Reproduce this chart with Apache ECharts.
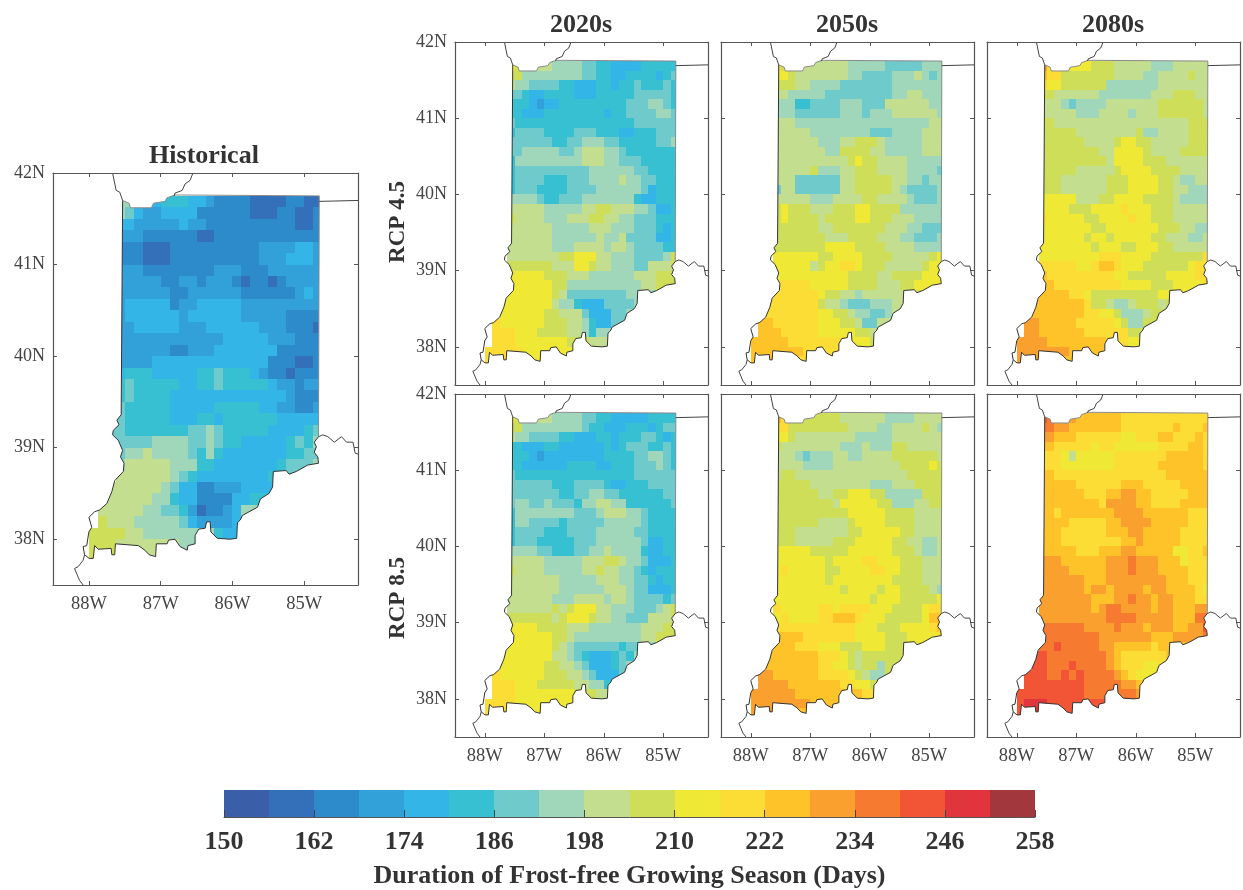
<!DOCTYPE html>
<html><head><meta charset="utf-8">
<style>html,body{margin:0;padding:0;background:#fff}#c{width:1243px;height:890px}</style>
<script src="https://cdn.jsdelivr.net/npm/echarts@6/dist/echarts.min.js"></script>
</head><body><div id="c"></div>
<script>
// Bin colours, one per 6-day bin from 150 to 258
const binColors = ['#3a5fa8','#3370b9','#2e8bcb','#32a0d9','#34b5e8','#36c0d2','#6fcbcb','#a0d6b9','#c4de8f','#cfde58','#efe835','#fbdd36','#fdc328','#f9a02e','#f67a30','#f25535','#e0353c','#a2383e'];
const binStart = 150, binStep = 6;
const levelKeys = 'abcdefghijklmnopqr';
const cbTicks = [150,162,174,186,198,210,222,234,246,258];
const lonTicks = [-88,-87,-86,-85];
const latTicks = [38,39,40,41,42];
const gridWest = -88, gridNorth = 41.75, gridCell = 0.125;

// Gridded season length, one letter per cell (a = 150-156 ... r = 252-258), north to south
const historical = [
"...hheeefffeedccccbbbbccbb","...hgeddeeeeccccccbbbccbbc","...eedddddeddccccccccccbbc","...dddccccccbbcccccccccccc",
"...cccbbbccccccccccddddeed","...cccbbbccccccccccdddeeed","...dddccccccccdddcccdddddd","...dddddccddcdddcbccbcdddd",
"...ddddddccddddddccccccded","...deeeeecddeeeeeddddddddd","...deeeeeedeeeeeedddddcccc","...ddeeeeedddeeeeeedddcccb",
"...ddddddddddddeeeeedddccc","...ddddddccdddeeeeeeeccccc","...ddddeeeeeeeeeeeeecccbbc","...efffeeeeeffgfffedccbccc",
"...fgfffffeeffgfffffeddcdd","...fgffffeeeeeeeeeeeeedccc","...gfffffeeeeefffffeeddccd","...gfffffeeeffeffffffeeeee",
"..ggfffffffgghgfffffeeeefg","..ggggghhhhgghgffeeeeefgfh","...ghhihhhhgfhfeeeeeeeffgg","...hiiiiihhhffeeeeeeefgggh",
"...iiiiiihgfeeeeeeeefggggg","..iiiiiihgeeccdddeeeefffff",".iiiiiihhfeeccccee ffffffff".replace(' ',''),".iiiiihhggfdbccdehhhhhhhhh",
".jiiihhhhhgeddddefffffffff","jjjjiihhhhhhhhfeeeeeffffff","jjjiiiiiiihhhhhhhhhhffffff","jjjiiiiiihhhhhhhhhhhhhhhhh"];
const rcp45s2020 = [
"...kjjiiihhhhggffeeeefffff","...jjhhhhhhhhggffeeffffefg","...ihhggggffeeeffeffgfffgf","...ggfeeffffeeefffffgggggf",
"...fffedeefffffffffggghhgf","...ffeeeffffffffeffgggghhg","...gffffffffffffffffgggggg","...fggggffffgggfffeefffggg",
"...ggggggffgghhhggfffffggh","...gghhhhhgghiiihhgfffffff","...fhhhhhhhhhiiihhgggfffff","...fgggggggggghhhhhhggffff",
"...fggggfffggghhhhihhggfff","...fgggffffgggghhhhhhgefff","...hhhhgffggghhhhhhhfeefff","...iiiiihhhhhiijjiiihhgeef",
"...jiiiihhhiiijjiihhgggfff","...iiiiiihhhhhiiihhhgggfef","...iiiiiihhhhhhihhiggggeef","...iiiiiihhhiiiihiihggggff",
"...iiiiiiijjkkkiihhhgggghj","...jjjjjjiiikkjiihhhggiiij","...kkkkkjjjiiihhhhhhiiijjj","...kkkkkkjjhhhhhhhhhhiijjj",
"...kkkkkkjigggggggghhhhhhh","..kkkkkkkihhfeeegggghhiiii","..kkkkkkjjiiigeeegghhkkkkk",".lkkkkkkjjjiihfeegghkkkkkk",
".lllkkkjjjjiihfhhhhhhhhhhh",".lllkkkkkkkjjjiiiiiiiiiiii","lllllkkkkkkkkjjjjiiiiiiiii","lllkkkkkkkkkkkjjjjjjjjjjjj"];
const rcp45s2050 = [
"...ljjiiiiiiihhhhhggggghhh","...kkjiiiiiiihhgggghhhihgh","...jjjiihhhhggggggghhhhhhh","...iihhhhhggggggggghhiihhh",
"...hhhffgggghhhgggiiiiiihh","...hhhgggggghhhghhhiiiiiih","...iiihhhhhhhhhhhhhhhhhhii","...iiiiihhhhhhhhggghhhhiii",
"...iiiiiihhhiijjjihhhhhiii","...iiiiiiihhjjjjiihhhhhiii","...iiiiiiiiiijkjjiiiihhhhh","...iiiiijhhhiijjjiiiihhhhg",
"...iiiggggggiijjjjjiihhghh","...giiggggggiijjjjjihggggh","...iiiiihhhiiiijjiiiihgggh","...jkjjjiiijjjkkjjjjhhhhhh",
"...jkjjjjijjjjkkjjjiiihhhh","...jjjjjjiijjjjjjjiiihhggg","...jjjjjjjiiijjjjiiihhgggh","...jjjjjjjkkkkjjjjiiiihhhh",
"...kkkkkkjjkkkkjjjjiiiiijk","...kkkkkijkkllkjjjiiiiijkk","...kkkkkkkkkkjjjjiijjjjkkk","...lllllkkkkkjjjjiiijjkkkk",
"...llllllkjjiihiiiiiijjjjj","..llllllljiihggghhhiijjjjj","..lllllllkkjjihhgghiiillll",".mmllllllkkkjjiggiiimmllll",
".mmmlllllkkkkkjjiiiiiiiiii","mmmmmllllllllkkkjjiiiiiiii","mmmmmmmlllllllllkkkjjjjjjj","mmmmmlllllllllllkkkkkkkkkk"];
const rcp45s2080 = [
"...nllkkkkjjjiiiiihhhiiiii","...mlljjjjjjjiiiihhiiiijii","...lkkjjjjjjhhhhhhhiiiiiii","...jjiiiiiihhhhhhhiiijjjii",
"...iiihghhhhiiiiiiijjjjjji","...iiiiihhhiiiihiiijjjjjji","...jjiiiiiiiiiiiiiiiiiijjj","...jjjjjiiiiiiiijhhiiiijjj",
"...jjjjjjiiiijkkjjiiiiijjj","...jjjjjjjjiikkkkjiiiijjjj","...jjjjjjjjjikkkkjjjiiiiii","...jjjjjiiiiijkkkkjjjjiiii",
"...jjjiiiiiijjjkkkkjjihhii","...jjjiiiiiijjjkkkkjjiihhh","...kkkkkiiijjkkkkjjjjihhhh","...kkkkjjjkkkklkkkjjjiiiii",
"...lkkkkkjjkkkklkkjjjiiiii","...kkkkkkkjjkkkkkkkjjjiihh","...kkkkkkjkkjkkkkkjjiiihhi","...kkkkkkkjkkkjjkkkjjiiiii",
"...kkkkkkkklllkkkkjjjjjjjl","...lllllkklmmlkkkjjjjjjkll","...mlllllllllkkjjjjjkkkkll","...mmlllllllllkkkkjjjkkkkl",
"...mmmmllkjjjjjjjjjkkkkkkk","..mmmmmmmljjihhijjjijjkkkk","..mmmmmmmllkkjhhhijjjlllll",".nnmmmmmlllllkjhhjjjjmmlll",
".nnmmmmmmlllllljjjkkkkkkkk","nnnnmmmmmmmmlllkkkkkkkkkkk","nnnnnnnmmmmmmmmmmllkkkkkkk","nnnnnmmmmmmmmmmlllllllkkkk"];
const rcp85s2020 = [
"...kjjiiihhhhggffeeeeeffff","...jjhhhhhhhhgffeeefffefgg","...ihhggggffeeeffefffggfef","...ffeeeffeeeeeefefgggffgf",
"...fffedeeeeeeeeffffgghhgf","...ffeeeeeeffffeefffggghgf","...gffffffffffffffffgggggg","...ggggggfffggggfeefffgggg",
"...gggggggffgghhggffffffgg","...ghhgghgggfhhiihhffffffg","...fhhhhhhhhggghiiihhgffff","...fhhggggfggggghhhhhgffff",
"...fggggfffgggghhhhhggffff","...fgggfffffggghhhhhhgeeff","...hhhhggfffgghhihhhhfeeff","...iiiiihhhhhiiijjihhgeeef",
"...jiiiihhhhhiijiihhgfefff","...iiiiiiihhhhhiiihhggfeff","...iiiiiiihhhhhhiiihggeeef","...iiiiiihhhiiiihiihggggfg",
"...iiiiiijijkkkiihhhggghij","...jjjjjjijkkkjiihhgggiiij","...kkkkjjjjiiihhhhhhhiiijj","...kkkkkkjjihhhhhhhhhiijjj",
"...kkkkkkjihggggggfgghhhhh","..kkkkkkkiihgfeeefgfhhiiii","..kkkkkkjjiihgeeefghhkkkkk",".lkkkkkkjjjiihgeeegghkkkkk",
".lllkkkjjjjjiihhfhhhhhiiii",".lllkkkkkkkkjjjiiiiiiiiiii","llllkkkkkkkkkkkjjjiiiiiiii","llkkkkkkkkkkkkkjjjjjjjjjjj"];
const rcp85s2050 = [
"...mlljjjjjjiiiiiihhhhiiii","...lljjjjjjjjiiiihhiiiijih","...kkjiiiiiiiihhhhhiiiiiii","...jiiiiiiiihhhihhhjjiiiii",
"...iiihghhhiihhiiiijjjjjji","...iiiihhhhiiiiiiiiijjjjkj","...ijjiiiiiiiiiiiiiiijjjjj","...jjjjjiiiiiiiihhhiiijjjj",
"...jjjjjjiijjkkkjjhhhhhjjj","...jjjjjjjjikkkkkjjhhhiijj","...jjjjjjjjjjkkkkkjjjjiiii","...jjjjjjiiiijkkkkjjjjiiii",
"...jjjiiiiiiijjkkkkkjjiiii","...jjjiiiiijjjkkkkkjjiihhi","...kkkkkjjjjjkkkkkkjjjihhi","...kkkkkkkjkkkkllkkkjjjiii",
"...klkkkkkjjkkkkllkkjjjiii","...kkkkkkkjkkkkkkkkjjjjiii","...kkkkkkkkkjkkkkjkkjjjjih","...kkkkkkkkkkkkkjkkkjjjjjk",
"...lkkkkkllkllllkkkjjjjkll","...klkkkkllmmmlkkkjjjjjkmm","...lllllllllllkkkjjjkkkklm","...mmmmlllllllkkkkjjjkkkkl",
"...mmmlllkkkjjjkkkjjjkkkkk","..mmmmmmmlllkjijjjjjjkkkkk","..mmmmmmmllkkjijjhjjkkllll",".nnmmmmmmllllkjihhjjkkmmll",
".nnnnmmmmmmmllkkjhjjjjkkkk","nnnnnnmmmmmmmmmlllkkkkkkkk","nnnnnnnnmmmmmmmmmmlkkkkkkk","nnnnnmmmmmmmmmmmmlllllkkkk"];
const rcp85s2080 = [
"...ponnnmmmmmmllllllllllll","...oonnmmmmmmmlllllllmlllm","...nnmmmllllllkklllmmlllml","...mmlllllkllkkkkkkllllmml",
"...lllkikkkkklllllllmmmmml","...lllkkkkkkkllllllmmmmmml","...mmlllllllllllllllmmmmmm","...mmmmmllllllmmmlllllmmmm",
"...mmmmmmlllmmnnmmlllllmmm","...mmmmmmmmlnnnnmmllllmmmm","...mmlmmmmmmmnnnnmmmmmmlll","...mmmmlllllmmnnnnmmmmmlll",
"...mmmllllllmmmnnmmmmmllll","...mmmllllllllmmnmmmmmllll","...mmmmmlllmmmnnmmmmmkkllm","...nnnmmmmmmnnnonnnmmmklll",
"...nnnnmmmmmnnnonnnmmmmlll","...nnnnnnmmmnnnnnnnnmmmlll","...nnnnnnmnnmnnnnmnnmmmmlk","...nnnnnnnmmmnnonnmnnmmmll",
"...nnnnnnnmnoonnnnmnnmmmnn","...nnnnnnnnnoooonnnnnmmmoo","...oooooonnnnonnnmnnnmmnnp","...oooooooonnnnnnnmmmnnnno",
"...oopooooonnmmmmmlmmmmnnn","..ppoooooooonmllllllmmmmmm","..ppooopoooonmlllkkllmmppp",".pppoopopoooonmlkkkkllmmpp",
".ppppppppooooonnmkkkmmmmmm","pppppppppooooooonmmmnnnnnn","pqqqpppppppppppoooonnnnnnn","ppqqpppppppppppppoooonnnnn"];

// Boundaries in [lon, lat]
const stateNorthEast = [[-87.53,41.70],[-87.44,41.67],[-87.42,41.62],[-87.13,41.62],[-87.10,41.67],[-86.94,41.69],[-86.91,41.73],[-86.80,41.76],[-84.79,41.75],[-84.80,39.12]];
const stateSouthWest = [[-84.80,39.12],[-84.86,39.06],[-84.83,39.01],[-84.86,38.95],[-84.81,38.90],[-84.80,38.83],[-84.95,38.81],[-85.11,38.74],[-85.21,38.71],[-85.25,38.75],[-85.43,38.74],[-85.44,38.57],[-85.49,38.50],[-85.61,38.44],[-85.65,38.35],[-85.86,38.26],[-85.89,38.21],[-85.93,38.18],[-85.94,38.01],[-86.03,38.00],[-86.21,38.01],[-86.30,38.08],[-86.31,38.19],[-86.36,38.19],[-86.38,38.12],[-86.47,38.11],[-86.52,38.04],[-86.52,37.95],[-86.62,37.93],[-86.63,37.88],[-86.73,37.92],[-86.80,38.00],[-86.89,37.99],[-86.91,37.95],[-87.06,37.95],[-87.07,37.81],[-87.16,37.83],[-87.22,37.88],[-87.31,37.93],[-87.63,37.95],[-87.64,37.83],[-87.68,37.83],[-87.69,37.90],[-87.87,37.89],[-87.92,37.93],[-87.94,37.79],[-87.995,37.79],[-88.06,37.83],[-88.08,37.92],[-88.03,37.93],[-88.0,38.08],[-87.96,38.13],[-88.0,38.24],[-87.92,38.30],[-87.85,38.32],[-87.75,38.39],[-87.68,38.52],[-87.64,38.64],[-87.52,38.74],[-87.51,38.83],[-87.56,38.90],[-87.53,38.97],[-87.59,39.08],[-87.67,39.14],[-87.66,39.19],[-87.58,39.25],[-87.61,39.30],[-87.55,39.36],[-87.53,41.70]];
const illinoisShore = [[-87.67,42],[-87.62,41.81],[-87.57,41.79],[-87.53,41.70]];
const michiganShore = [[-86.55,42],[-86.59,41.92],[-86.66,41.88],[-86.70,41.81],[-86.80,41.78],[-86.81,41.75]];
const michiganOhioLine = [[-84.79,41.69],[-84.25,41.70]];
const ohioRiverEast = [[-84.80,39.12],[-84.74,39.14],[-84.67,39.12],[-84.58,39.06],[-84.48,39.12],[-84.41,39.06],[-84.32,39.06],[-84.29,38.94],[-84.25,38.93]];
const wabashSouth = [[-88.06,37.83],[-88.08,37.77],[-88.15,37.70],[-88.20,37.68],[-88.13,37.55],[-88.08,37.5]];

const LON_MIN=-88.5, LON_MAX=-84.25, LAT_MIN=37.5, LAT_MAX=42;
const serif = '"Liberation Serif","Times New Roman",serif';
const axisColor = '#555';

const panels = [
 {rows:historical, left:53, top:173, width:305, height:412, xl:true, yl:true},
 {rows:rcp45s2020, left:455, top:42, width:253, height:343, xl:false, yl:true},
 {rows:rcp45s2050, left:721, top:42, width:253, height:343, xl:false, yl:false},
 {rows:rcp45s2080, left:987, top:42, width:253, height:343, xl:false, yl:false},
 {rows:rcp85s2020, left:455, top:394, width:253, height:343, xl:true, yl:true},
 {rows:rcp85s2050, left:721, top:394, width:253, height:343, xl:true, yl:false},
 {rows:rcp85s2080, left:987, top:394, width:253, height:343, xl:true, yl:false}
];

function toCells(rows){
  const out=[];
  rows.forEach((row,j)=>{
    for(let i=0;i<row.length;i++){
      const k=levelKeys.indexOf(row[i]);
      if(k<0) continue;
      out.push([gridWest+gridCell*(i+.5), gridNorth-gridCell*(j+.5), binStart+binStep*k+binStep/2]);
    }
  });
  return out;
}
function renderCell(params,api){
  const lon=api.value(0), lat=api.value(1), v=api.value(2);
  const a=api.coord([lon-gridCell/2,lat+gridCell/2]), b=api.coord([lon+gridCell/2,lat-gridCell/2]);
  const x0=Math.round(a[0]),y0=Math.round(a[1]),x1=Math.round(b[0]),y1=Math.round(b[1]);
  return {type:'rect',shape:{x:x0,y:y0,width:x1-x0,height:y1-y0},style:{fill:binColors[Math.floor((v-binStart)/binStep)]}};
}
const maskRing=[[LON_MIN,LAT_MAX],[LON_MIN,LAT_MIN],[LON_MAX,LAT_MIN],[LON_MAX,LAT_MAX],[LON_MIN,LAT_MAX]]
  .concat(stateNorthEast,stateSouthWest,[[LON_MIN,LAT_MAX]]);
function renderMask(params,api){
  return {type:'polygon',shape:{points:maskRing.map(p=>api.coord(p))},style:{fill:'#fff',stroke:null}};
}
function lineSeries(data,x,y,color){
  return {type:'line',data,xAxisIndex:x,yAxisIndex:y,showSymbol:false,silent:true,z:4,clip:true,
    lineStyle:{color,width:1},animation:false};
}

const grid=[],xAxis=[],yAxis=[],series=[];
panels.forEach((p,n)=>{
  grid.push({left:p.left,top:p.top,width:p.width,height:p.height,show:false});
  const xi=xAxis.length, yi=yAxis.length;
  const lineS={show:true,onZero:false,lineStyle:{color:axisColor,width:1.2}};
  ['bottom','top'].forEach((pos,s)=>xAxis.push({type:'value',gridIndex:n,position:pos,min:LON_MIN,max:LON_MAX,z:5,
    axisLine:lineS,splitLine:{show:false},
    axisTick:{show:true,inside:true,length:4,customValues:lonTicks,lineStyle:{color:axisColor}},
    axisLabel:{show:s===0&&p.xl,customValues:lonTicks,margin:10,fontFamily:serif,fontSize:18.5,color:'#444',formatter:v=>Math.abs(v)+'W'}}));
  ['left','right'].forEach((pos,s)=>yAxis.push({type:'value',gridIndex:n,position:pos,min:LAT_MIN,max:LAT_MAX,z:5,
    axisLine:lineS,splitLine:{show:false},
    axisTick:{show:true,inside:true,length:4,customValues:latTicks,lineStyle:{color:axisColor}},
    axisLabel:{show:s===0&&p.yl,customValues:latTicks,margin:8,fontFamily:serif,fontSize:18,color:'#444',formatter:v=>v+'N'}}));
  series.push({type:'custom',name:'cells'+n,coordinateSystem:'cartesian2d',xAxisIndex:xi,yAxisIndex:yi,z:2,silent:true,animation:false,
    data:toCells(p.rows),encode:{x:0,y:1},renderItem:renderCell});
  series.push({type:'custom',coordinateSystem:'cartesian2d',xAxisIndex:xi,yAxisIndex:yi,z:3,silent:true,animation:false,
    data:[[LON_MIN,LAT_MIN]],encode:{x:0,y:1},renderItem:renderMask});
  series.push(lineSeries(stateNorthEast,xi,yi,'#8a8a8a'));
  series.push(lineSeries(stateSouthWest,xi,yi,'#333'));
  [illinoisShore,michiganShore,michiganOhioLine,ohioRiverEast,wabashSouth].forEach(l=>series.push(lineSeries(l,xi,yi,'#444')));
});

// Colour bar
const cbGrid=grid.length;
grid.push({left:224,top:790,width:811,height:28,show:false});
const cbX=xAxis.length, cbY=yAxis.length;
xAxis.push({type:'value',gridIndex:cbGrid,min:cbTicks[0],max:cbTicks[cbTicks.length-1],z:5,
  axisLine:{show:true,onZero:false,lineStyle:{color:axisColor}},splitLine:{show:false},
  axisTick:{show:true,inside:true,length:7,customValues:cbTicks,lineStyle:{color:'#444'}},
  axisLabel:{customValues:cbTicks,margin:12,fontFamily:serif,fontSize:26,fontWeight:'bold',color:'#333',hideOverlap:false},
  name:'Duration of Frost-free Growing Season (Days)',nameLocation:'middle',nameGap:46,
  nameTextStyle:{fontFamily:serif,fontSize:26,fontWeight:'bold',color:'#333'}});
yAxis.push({type:'value',gridIndex:cbGrid,min:0,max:1,show:false});
series.push({type:'custom',coordinateSystem:'cartesian2d',xAxisIndex:cbX,yAxisIndex:cbY,z:2,silent:true,animation:false,
  data:binColors.map((c,i)=>[binStart+binStep*i,binStart+binStep*(i+1)]),encode:{x:[0,1]},
  renderItem(params,api){
    const a=api.coord([api.value(0),1]),b=api.coord([api.value(1),0]);
    const x0=Math.round(a[0]),x1=Math.round(b[0]);
    return {type:'rect',shape:{x:x0,y:a[1],width:x1-x0,height:b[1]-a[1]},style:{fill:binColors[params.dataIndex]}};
  }});

const headTitle=(text,x,y)=>({text,left:x,top:y,textAlign:'center',textVerticalAlign:'middle',padding:0,
  textStyle:{fontFamily:serif,fontSize:26,fontWeight:'bold',color:'#333'}});
const rotated=(text,x,y)=>({type:'text',x,y,rotation:Math.PI/2,silent:true,
  style:{text,font:'bold 23px '+serif,fill:'#333',textAlign:'center',textVerticalAlign:'middle'}});

const chart=echarts.init(document.getElementById('c'),null,{renderer:'canvas'});
chart.setOption({
  animation:false,backgroundColor:'#fff',
  title:[headTitle('Historical',204,156),headTitle('2020s',581,25),headTitle('2050s',847,25),headTitle('2080s',1113,25)],
  graphic:[rotated('RCP 4.5',398,222),rotated('RCP 8.5',398,598)],
  grid,xAxis,yAxis,series
});
</script></body></html>
